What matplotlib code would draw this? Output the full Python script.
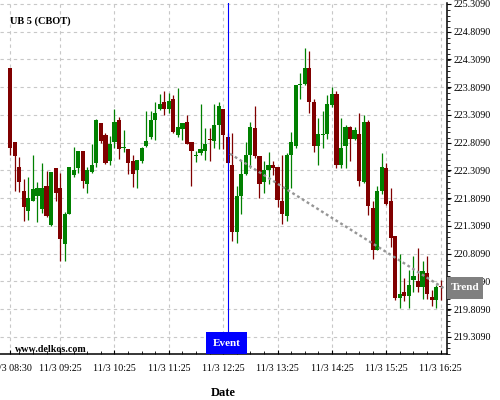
import matplotlib
matplotlib.use("Agg")
import matplotlib.pyplot as plt
from matplotlib.patches import Rectangle
from matplotlib.ticker import MultipleLocator, FixedLocator, FormatStrFormatter

plt.rcParams['font.family'] = ['Liberation Serif', 'DejaVu Serif']

# 5-minute bars starting 11/3 08:30
opens = [224.153, 222.823, 222.373, 221.941, 221.570, 221.761, 221.857, 221.606, 222.031, 221.318,
         222.355, 221.995, 220.976, 221.516, 222.235, 222.361, 222.661, 222.073, 222.289, 222.451,
         223.158, 222.948, 222.487, 222.823, 223.218, 222.721, 222.697, 222.481, 222.325, 222.487,
         222.751, 222.918, 223.218, 223.416, 223.542, 223.416, 223.596, 222.948, 223.050, 223.182,
         222.823, 222.577, 222.631, 222.661, 222.870, 222.847, 223.134, 223.416, 222.912, 222.409,
         221.192, 221.857, 222.247, 222.583, 223.074, 222.571, 222.103, 222.319, 222.409, 222.373,
         221.761, 221.480, 222.589, 222.751, 223.854, 223.860, 224.153, 223.542, 222.751, 222.954,
         222.966, 223.482, 223.686, 222.415, 222.751, 223.086, 222.882, 222.966, 222.109, 223.182,
         221.636, 220.880, 221.941, 222.361, 221.761, 221.132, 220.005, 220.125, 220.041, 220.329,
         220.323, 220.203, 220.466, 220.035, 219.969, 220.215]
highs = [224.153, 222.823, 222.559, 222.151, 222.199, 222.589, 222.109, 222.439, 222.307, 222.283,
         222.355, 222.271, 221.558, 222.373, 222.739, 222.661, 222.661, 222.367, 222.781, 223.242,
         223.158, 222.990, 222.936, 223.410, 223.278, 223.038, 222.697, 222.589, 222.493, 222.739,
         223.374, 223.374, 223.536, 223.680, 223.746, 223.698, 223.668, 223.788, 223.158, 223.302,
         222.823, 222.661, 223.500, 223.068, 223.068, 223.500, 223.542, 223.416, 222.990, 222.990,
         222.031, 222.499, 222.817, 223.176, 223.464, 222.571, 222.475, 222.649, 222.487, 222.373,
         222.589, 222.619, 223.002, 223.848, 224.057, 224.507, 224.465, 223.590, 223.248, 223.380,
         223.668, 223.806, 223.746, 223.248, 223.128, 223.110, 223.098, 223.338, 223.302, 223.218,
         221.749, 222.037, 222.619, 222.439, 221.989, 221.132, 220.802, 220.365, 220.520, 220.772,
         220.910, 220.682, 220.772, 220.161, 220.251, 220.341]
lows = [222.589, 221.941, 221.929, 221.390, 221.420, 221.749, 221.372, 221.540, 221.462, 221.300,
        221.755, 220.670, 220.670, 221.516, 222.187, 222.271, 221.989, 221.899, 222.271, 222.367,
        222.799, 222.433, 222.403, 222.709, 222.523, 222.649, 222.241, 222.019, 221.989, 222.439,
        222.739, 222.870, 222.858, 223.398, 223.308, 223.338, 222.978, 222.918, 222.858, 222.781,
        222.031, 222.469, 222.589, 222.499, 222.481, 222.709, 222.697, 222.703, 222.451, 221.030,
        221.000, 221.528, 222.229, 222.361, 222.535, 221.809, 221.899, 222.067, 222.229, 221.648,
        221.348, 221.390, 221.989, 222.709, 223.590, 223.848, 223.338, 222.649, 222.403, 222.709,
        222.870, 223.458, 222.349, 222.361, 222.349, 222.487, 222.858, 222.031, 222.091, 221.498,
        220.712, 220.868, 221.881, 221.677, 220.928, 219.981, 219.831, 219.951, 219.831, 220.119,
        220.119, 219.993, 219.993, 219.861, 219.831, 219.969]
closes = [222.721, 222.577, 222.109, 221.642, 221.809, 221.977, 221.995, 221.995, 221.480, 222.283,
          221.911, 221.066, 221.528, 222.373, 222.319, 222.661, 222.127, 222.319, 222.409, 223.218,
          222.841, 222.451, 222.787, 223.182, 222.703, 222.733, 222.451, 222.247, 222.493, 222.715,
          222.841, 223.218, 223.338, 223.506, 223.416, 223.560, 223.002, 223.086, 223.158, 222.793,
          222.661, 222.589, 222.697, 222.787, 222.853, 223.128, 223.470, 222.954, 222.451, 221.192,
          221.851, 222.247, 222.589, 223.092, 222.571, 222.067, 222.319, 222.403, 222.361, 221.767,
          221.516, 222.589, 222.823, 223.848, 223.872, 224.153, 223.548, 222.751, 222.960, 222.966,
          223.500, 223.686, 222.415, 222.721, 223.086, 222.882, 223.038, 222.127, 223.182, 221.659,
          220.880, 221.941, 222.373, 221.695, 221.096, 220.005, 220.089, 220.041, 220.251, 220.413,
          220.203, 220.502, 220.077, 219.969, 220.215, 220.203]

tick_pos = [0, 11, 23, 35, 47, 59, 71, 83, 95]
tick_labels = ['11/3 08:30', '11/3 09:25', '11/3 10:25', '11/3 11:25', '11/3 12:25',
               '11/3 13:25', '11/3 14:25', '11/3 15:25', '11/3 16:25']
event_bar = 48
trend_x = [48.5, 96.0]
trend_y = [222.61, 220.17]

up_color = '#008000'
down_color = '#800000'

fig = plt.figure(figsize=(5, 4), dpi=100)
ax = fig.add_axes([0.0, 0.115, 0.894, 0.8775])

idx = list(range(len(opens)))
colors = [up_color if c >= o else down_color for o, c in zip(opens, closes)]
bottoms = [min(o, c) for o, c in zip(opens, closes)]
heights = [max(abs(c - o), 0.018) for o, c in zip(opens, closes)]

ax.vlines(idx, lows, highs, colors=colors, linewidth=0.9, zorder=2)
ax.bar(idx, heights, bottom=bottoms, width=0.92, color=colors, linewidth=0, zorder=3)

ax.plot(trend_x, trend_y, color='#969696', linewidth=1.7, linestyle=(0, (1.2, 1.2)), zorder=4)
ax.axvline(event_bar, color='#0000ff', linewidth=0.8, zorder=5)

ax.set_xlim(-2.27, 96.4)
ax.set_ylim(219.0, 225.327)

ax.xaxis.set_major_locator(FixedLocator(tick_pos))
ax.set_xticklabels(tick_labels)
ax.xaxis.set_minor_locator(FixedLocator(list(range(2, 96, 3))))
ax.yaxis.tick_right()
ax.yaxis.set_major_locator(FixedLocator([219.309 + 0.5 * k for k in range(13)]))
ax.yaxis.set_major_formatter(FormatStrFormatter('%.4f'))
ax.yaxis.set_minor_locator(MultipleLocator(0.1))

ax.tick_params(axis='x', which='major', direction='in', length=3, labelsize=7.2, pad=7)
ax.tick_params(axis='x', which='minor', direction='in', length=2)
ax.tick_params(axis='y', which='major', direction='out', length=3, labelsize=7.2, pad=1.5)
ax.tick_params(axis='y', which='minor', direction='out', length=2)

ax.grid(True, which='major', color='#c8c8c8', linestyle=(0, (3, 3)), linewidth=0.8)
ax.set_axisbelow(True)
for side in ['left', 'top']:
    ax.spines[side].set_visible(False)
for side in ['right', 'bottom']:
    ax.spines[side].set_linewidth(1.1)

ax.set_xlabel('Date', fontsize=9, fontweight='bold', labelpad=10)

fig.text(0.02, 0.9475, 'UB 5 (CBOT)', fontsize=7.5, fontweight='bold', va='center', ha='left')
fig.text(0.03, 0.1275, 'www.delkos.com', fontsize=7.2, fontweight='bold', va='center', ha='left')

# Event label
fig.patches.append(Rectangle((0.412, 0.115), 0.082, 0.055, transform=fig.transFigure,
                             facecolor='#0000ff', edgecolor='none', zorder=5))
fig.text(0.453, 0.1425, 'Event', color='white', fontsize=8, fontweight='bold',
         ha='center', va='center', zorder=6)

# Trend label
fig.patches.append(Rectangle((0.894, 0.2525), 0.072, 0.055, transform=fig.transFigure,
                             facecolor='#808080', edgecolor='none', zorder=5))
fig.text(0.93, 0.28, 'Trend', color='white', fontsize=8, fontweight='bold',
         ha='center', va='center', zorder=6)

fig.savefig('out.png', dpi=100)
